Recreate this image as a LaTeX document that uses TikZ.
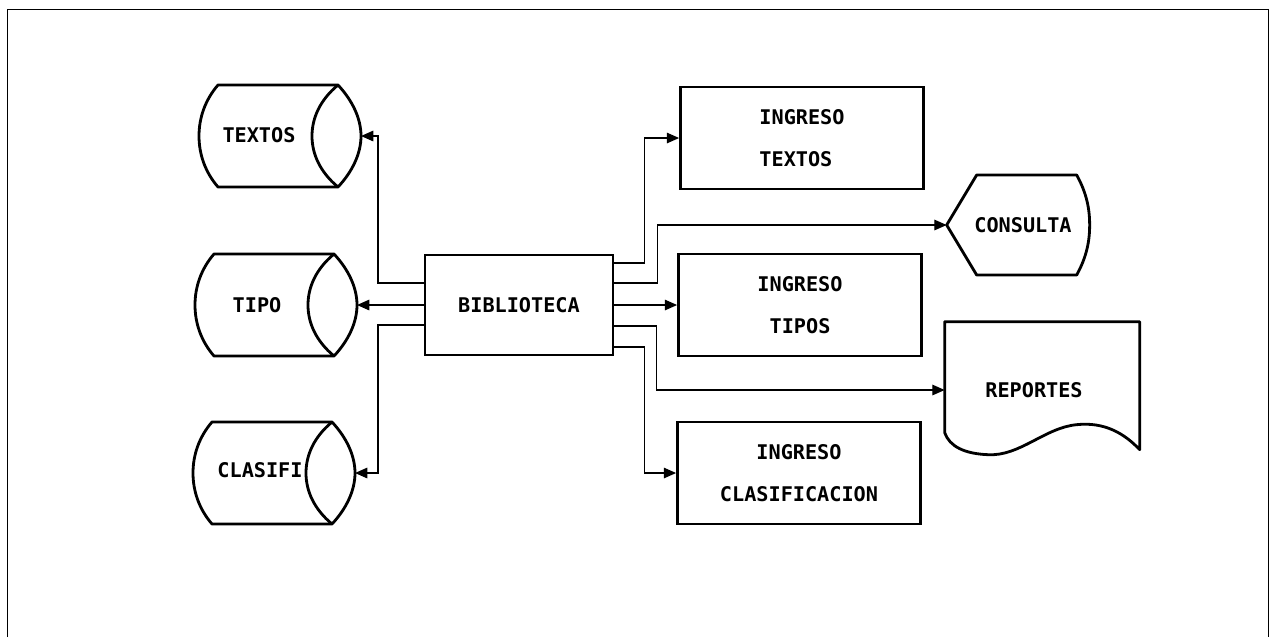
\documentclass[tikz,border=0pt]{standalone}
\usepackage{fontspec}
\newfontfamily\dotfont{DejaVu Sans Mono}
\usetikzlibrary{arrows.meta,calc}
\begin{document}
\begin{tikzpicture}[x=0.02cm, y=-0.02cm,
  every node/.style={font=\dotfont\bfseries\fontsize{11.5}{24}\selectfont},
  box/.style={draw, line width=1.6pt, minimum width=4.86cm, minimum height=2.04cm, align=center},
  outline/.style={draw, line width=1.6pt, line join=round},
  conn/.style={line width=0.7pt},
  arr/.style={conn, -{Triangle[length=7pt,width=6pt]}},
  store/.pic={
    \draw[outline] (-62,-51) -- (58,-51) .. controls (72,-36) and (81,-18) .. (81,0)
      .. controls (81,18) and (72,36) .. (58,51) -- (-62,51)
      .. controls (-75,36) and (-81,18) .. (-81,0)
      .. controls (-81,-18) and (-75,-36) .. (-62,-51) -- cycle;
    \draw[outline] (58,-51) .. controls (40,-36) and (32,-18) .. (32,0)
      .. controls (32,18) and (40,36) .. (58,51);
    \coordinate (-tip) at (81,0);
  }]
\useasboundingbox (0,0) rectangle (1275,637);
\draw[line width=0.5pt] (7,637) -- (7,9) -- (1268,9) -- (1268,637);

\pic (st-textos) at (280,136) {store};
\pic (st-tipo) at (276,305) {store};
\pic (st-clasifi) at (274,473) {store};
\node (textos) at (259,135) {TEXTOS};
\node (tipo) at (257,305) {TIPO};
\node (clasifi) at (260,470) {CLASIFI};

\node[box, minimum width=3.76cm, minimum height=2cm] (bib) at (519,305) {BIBLIOTECA};
\node[box, align=left] (itextos) at (802,138) {INGRESO\\TEXTOS};
\node[box] (itipos) at (800,305) {INGRESO\\TIPOS};
\node[box] (iclasif) at (799,473) {INGRESO\\CLASIFICACION};
\node[minimum width=3.04cm, minimum height=2cm] (consulta) at (1023,225) {CONSULTA};
\node[minimum width=3.56cm, minimum height=2.72cm] (reportes) at (1034,390) {REPORTES};

\draw[outline, shift={(consulta.west)}] (0,0) -- (30,-50) -- (130,-50)
  .. controls (140,-32) and (143,-16) .. (143,0)
  .. controls (143,16) and (140,32) .. (130,50) -- (30,50) -- cycle;
\draw[outline, shift={(reportes.north west)}] (0,0) -- (195,0) -- (195,128)
  .. controls (180,112) and (160,100) .. (132,103)
  .. controls (100,106) and (75,135) .. (43,133)
  .. controls (20,132) and (5,125) .. (0,111) -- cycle;

\draw[arr] ($(bib.west)+(0,-22)$) -| ($(st-textos-tip)+(17,0)$) -- (st-textos-tip);
\draw[arr] (bib.west) -- (st-tipo-tip);
\draw[arr] ($(bib.west)+(0,20)$) -| ($(st-clasifi-tip)+(23,0)$) -- (st-clasifi-tip);
\draw[arr] ($(bib.east)+(0,-42)$) -| ($(itextos.west)+(-35,0)$) -- (itextos.west);
\draw[arr] ($(bib.east)+(0,-22)$) -| ($(consulta.west)+(-289,0)$) -- (consulta.west);
\draw[arr] (bib.east) -- (itipos.west);
\draw[arr] ($(bib.east)+(0,21)$) -| ($(reportes.west)+(-288,0)$) -- (reportes.west);
\draw[arr] ($(bib.east)+(0,42)$) -| ($(iclasif.west)+(-32,0)$) -- (iclasif.west);
\end{tikzpicture}
\end{document}
